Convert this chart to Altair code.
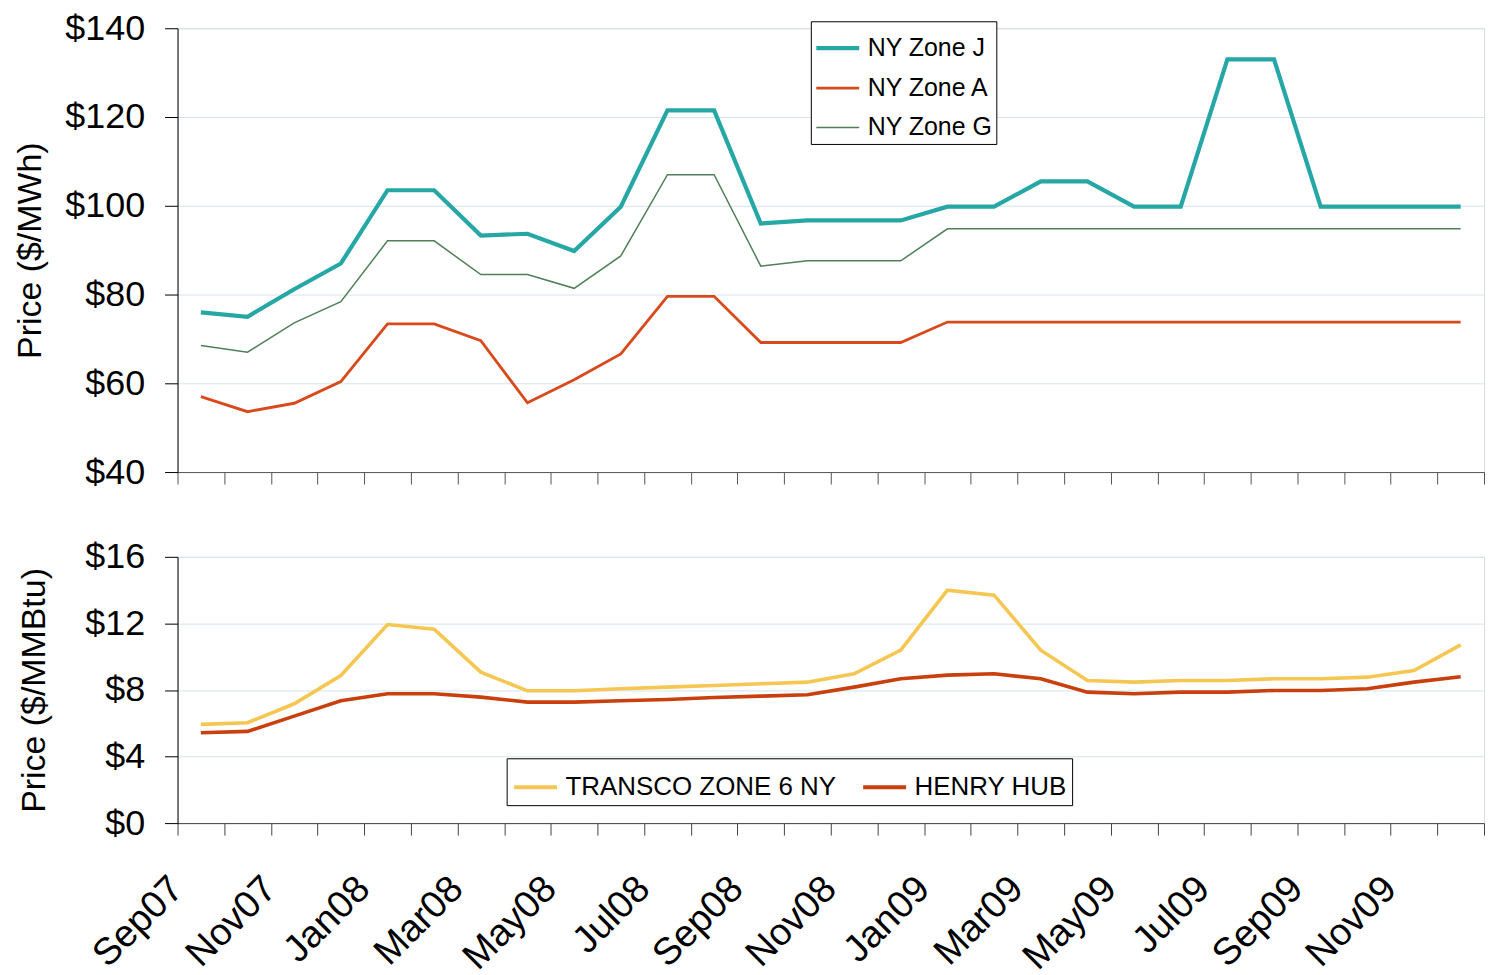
import altair as alt
import pandas as pd

months = ["Sep07", "Oct07", "Nov07", "Dec07", "Jan08", "Feb08", "Mar08", "Apr08",
          "May08", "Jun08", "Jul08", "Aug08", "Sep08", "Oct08", "Nov08", "Dec08",
          "Jan09", "Feb09", "Mar09", "Apr09", "May09", "Jun09", "Jul09", "Aug09",
          "Sep09", "Oct09", "Nov09", "Dec09"]

zone_j = [76.0, 75.0, 81.2, 87.0, 103.5, 103.5, 93.3, 93.7, 89.8, 99.8, 121.5, 121.5,
          96.0, 96.7, 96.7, 96.7, 99.8, 99.8, 105.5, 105.5, 99.8, 99.8, 133.0, 133.0,
          99.8, 99.8, 99.8, 99.8]
zone_a = [57.0, 53.6, 55.5, 60.4, 73.4, 73.4, 69.6, 55.6, 60.8, 66.6, 79.6, 79.6,
          69.2, 69.2, 69.2, 69.2, 73.8, 73.8, 73.8, 73.8, 73.8, 73.8, 73.8, 73.8,
          73.8, 73.8, 73.8, 73.8]
zone_g = [68.5, 67.0, 73.6, 78.4, 92.1, 92.1, 84.5, 84.5, 81.4, 88.7, 107.0, 107.0,
          86.4, 87.6, 87.6, 87.6, 94.8, 94.8, 94.8, 94.8, 94.8, 94.8, 94.8, 94.8,
          94.8, 94.8, 94.8, 94.8]

transco = [5.93, 6.03, 7.17, 8.87, 11.93, 11.65, 9.07, 7.95, 7.95, 8.07, 8.17, 8.27,
           8.37, 8.47, 8.97, 10.39, 14.0, 13.7, 10.39, 8.57, 8.47, 8.57, 8.57, 8.67,
           8.67, 8.77, 9.17, 10.71]
henry = [5.43, 5.51, 6.43, 7.35, 7.77, 7.77, 7.57, 7.27, 7.27, 7.35, 7.43, 7.55,
         7.63, 7.71, 8.17, 8.67, 8.89, 8.97, 8.67, 7.87, 7.77, 7.87, 7.87, 7.97,
         7.97, 8.07, 8.47, 8.79]

top_names = ["NY Zone J", "NY Zone A", "NY Zone G"]
top_colors = ["#26A7A6", "#D84A1C", "#4F7F58"]
top_widths = [4.2, 1.5, 1.5]
bot_names = ["TRANSCO ZONE 6 NY", "HENRY HUB"]
bot_colors = ["#F6C653", "#C9400F"]

shown_labels = months[::2]

FONT = "Liberation Sans"

top_df = pd.DataFrame({
    "month": months * 3,
    "series": [top_names[0]] * len(months) + [top_names[1]] * len(months) + [top_names[2]] * len(months),
    "value": zone_j + zone_a + zone_g,
    "order": list(range(len(months))) * 3,
})
bot_df = pd.DataFrame({
    "month": months * 2,
    "series": [bot_names[0]] * len(months) + [bot_names[1]] * len(months),
    "value": transco + henry,
    "order": list(range(len(months))) * 2,
})

label_expr = "indexof(" + str(shown_labels) + ", datum.value) >= 0 ? datum.value : ''"

x_scale = alt.Scale(type="band", domain=months, paddingInner=0, paddingOuter=0)

top_legend = alt.Legend(
    title=None, orient="none", legendX=635, legendY=-7,
    symbolType="stroke", symbolSize=1850, labelFontSize=25, labelFont=FONT,
    labelColor="black", strokeColor="black", fillColor="white",
    padding=3, rowPadding=4, labelOffset=6, direction="vertical",
)

top = alt.Chart(top_df).mark_line().encode(
    x=alt.X("month:O", scale=x_scale, sort=months,
            axis=alt.Axis(labels=False, title=None, tickBand="extent", tickSize=12,
                          domainColor="#555555", tickColor="#555555", grid=False)),
    y=alt.Y("value:Q", scale=alt.Scale(domain=[40, 140], nice=False, zero=False),
            axis=alt.Axis(values=[40, 60, 80, 100, 120, 140], labelExpr="'$' + datum.value",
                          title="Price ($/MWh)", titleFontSize=34, titleFont=FONT,
                          titleFontWeight="normal", titleColor="black", titlePadding=17,
                          labelFontSize=36, labelFont=FONT, labelColor="black",
                          labelPadding=20, tickSize=13, tickColor="black",
                          domainColor="black", gridColor="#D3E5EA", grid=True)),
    color=alt.Color("series:N", scale=alt.Scale(domain=top_names, range=top_colors),
                    legend=top_legend),
    strokeWidth=alt.StrokeWidth("series:N", scale=alt.Scale(domain=top_names, range=top_widths),
                                legend=top_legend),
    order="order:Q",
).properties(width=1310, height=445)

bot_legend = alt.Legend(
    title=None, orient="none", legendX=330, legendY=202,
    symbolType="stroke", symbolSize=1850, symbolStrokeWidth=4, labelFontSize=26,
    labelFont=FONT, labelColor="black", strokeColor="black", fillColor="white",
    padding=5, columnPadding=18, labelOffset=6, direction="horizontal", columns=2,
    labelLimit=400,
)

bot = alt.Chart(bot_df).mark_line(strokeWidth=3.6).encode(
    x=alt.X("month:O", scale=x_scale, sort=months,
            axis=alt.Axis(title=None, tickBand="extent", tickSize=12,
                          domainColor="#444444", tickColor="#444444", grid=False,
                          labelExpr=label_expr, labelAngle=-45, labelAlign="right",
                          labelBaseline="middle", labelFontSize=38, labelFont=FONT,
                          labelColor="black", labelPadding=48, labelOffset=-24,
                          labelOverlap=False, labelBound=False)),
    y=alt.Y("value:Q", scale=alt.Scale(domain=[0, 16], nice=False),
            axis=alt.Axis(values=[0, 4, 8, 12, 16], labelExpr="'$' + datum.value",
                          title="Price ($/MMBtu)", titleFontSize=34, titleFont=FONT,
                          titleFontWeight="normal", titleColor="black", titlePadding=33,
                          labelFontSize=36, labelFont=FONT, labelColor="black",
                          labelPadding=20, tickSize=13, tickColor="black",
                          domainColor="black", gridColor="#D3E5EA", grid=True)),
    color=alt.Color("series:N", scale=alt.Scale(domain=bot_names, range=bot_colors),
                    legend=bot_legend),
    order="order:Q",
).properties(width=1310, height=267)

chart = alt.vconcat(top, bot, spacing=47).resolve_scale(
    color="independent", strokeWidth="independent"
).resolve_legend(color="independent").properties(
    padding={"left": 5, "top": 0, "right": 0, "bottom": 0}
).configure_view(stroke=None).configure(font=FONT)

chart.save("out.html", embed_options={"renderer": "svg", "actions": False})
